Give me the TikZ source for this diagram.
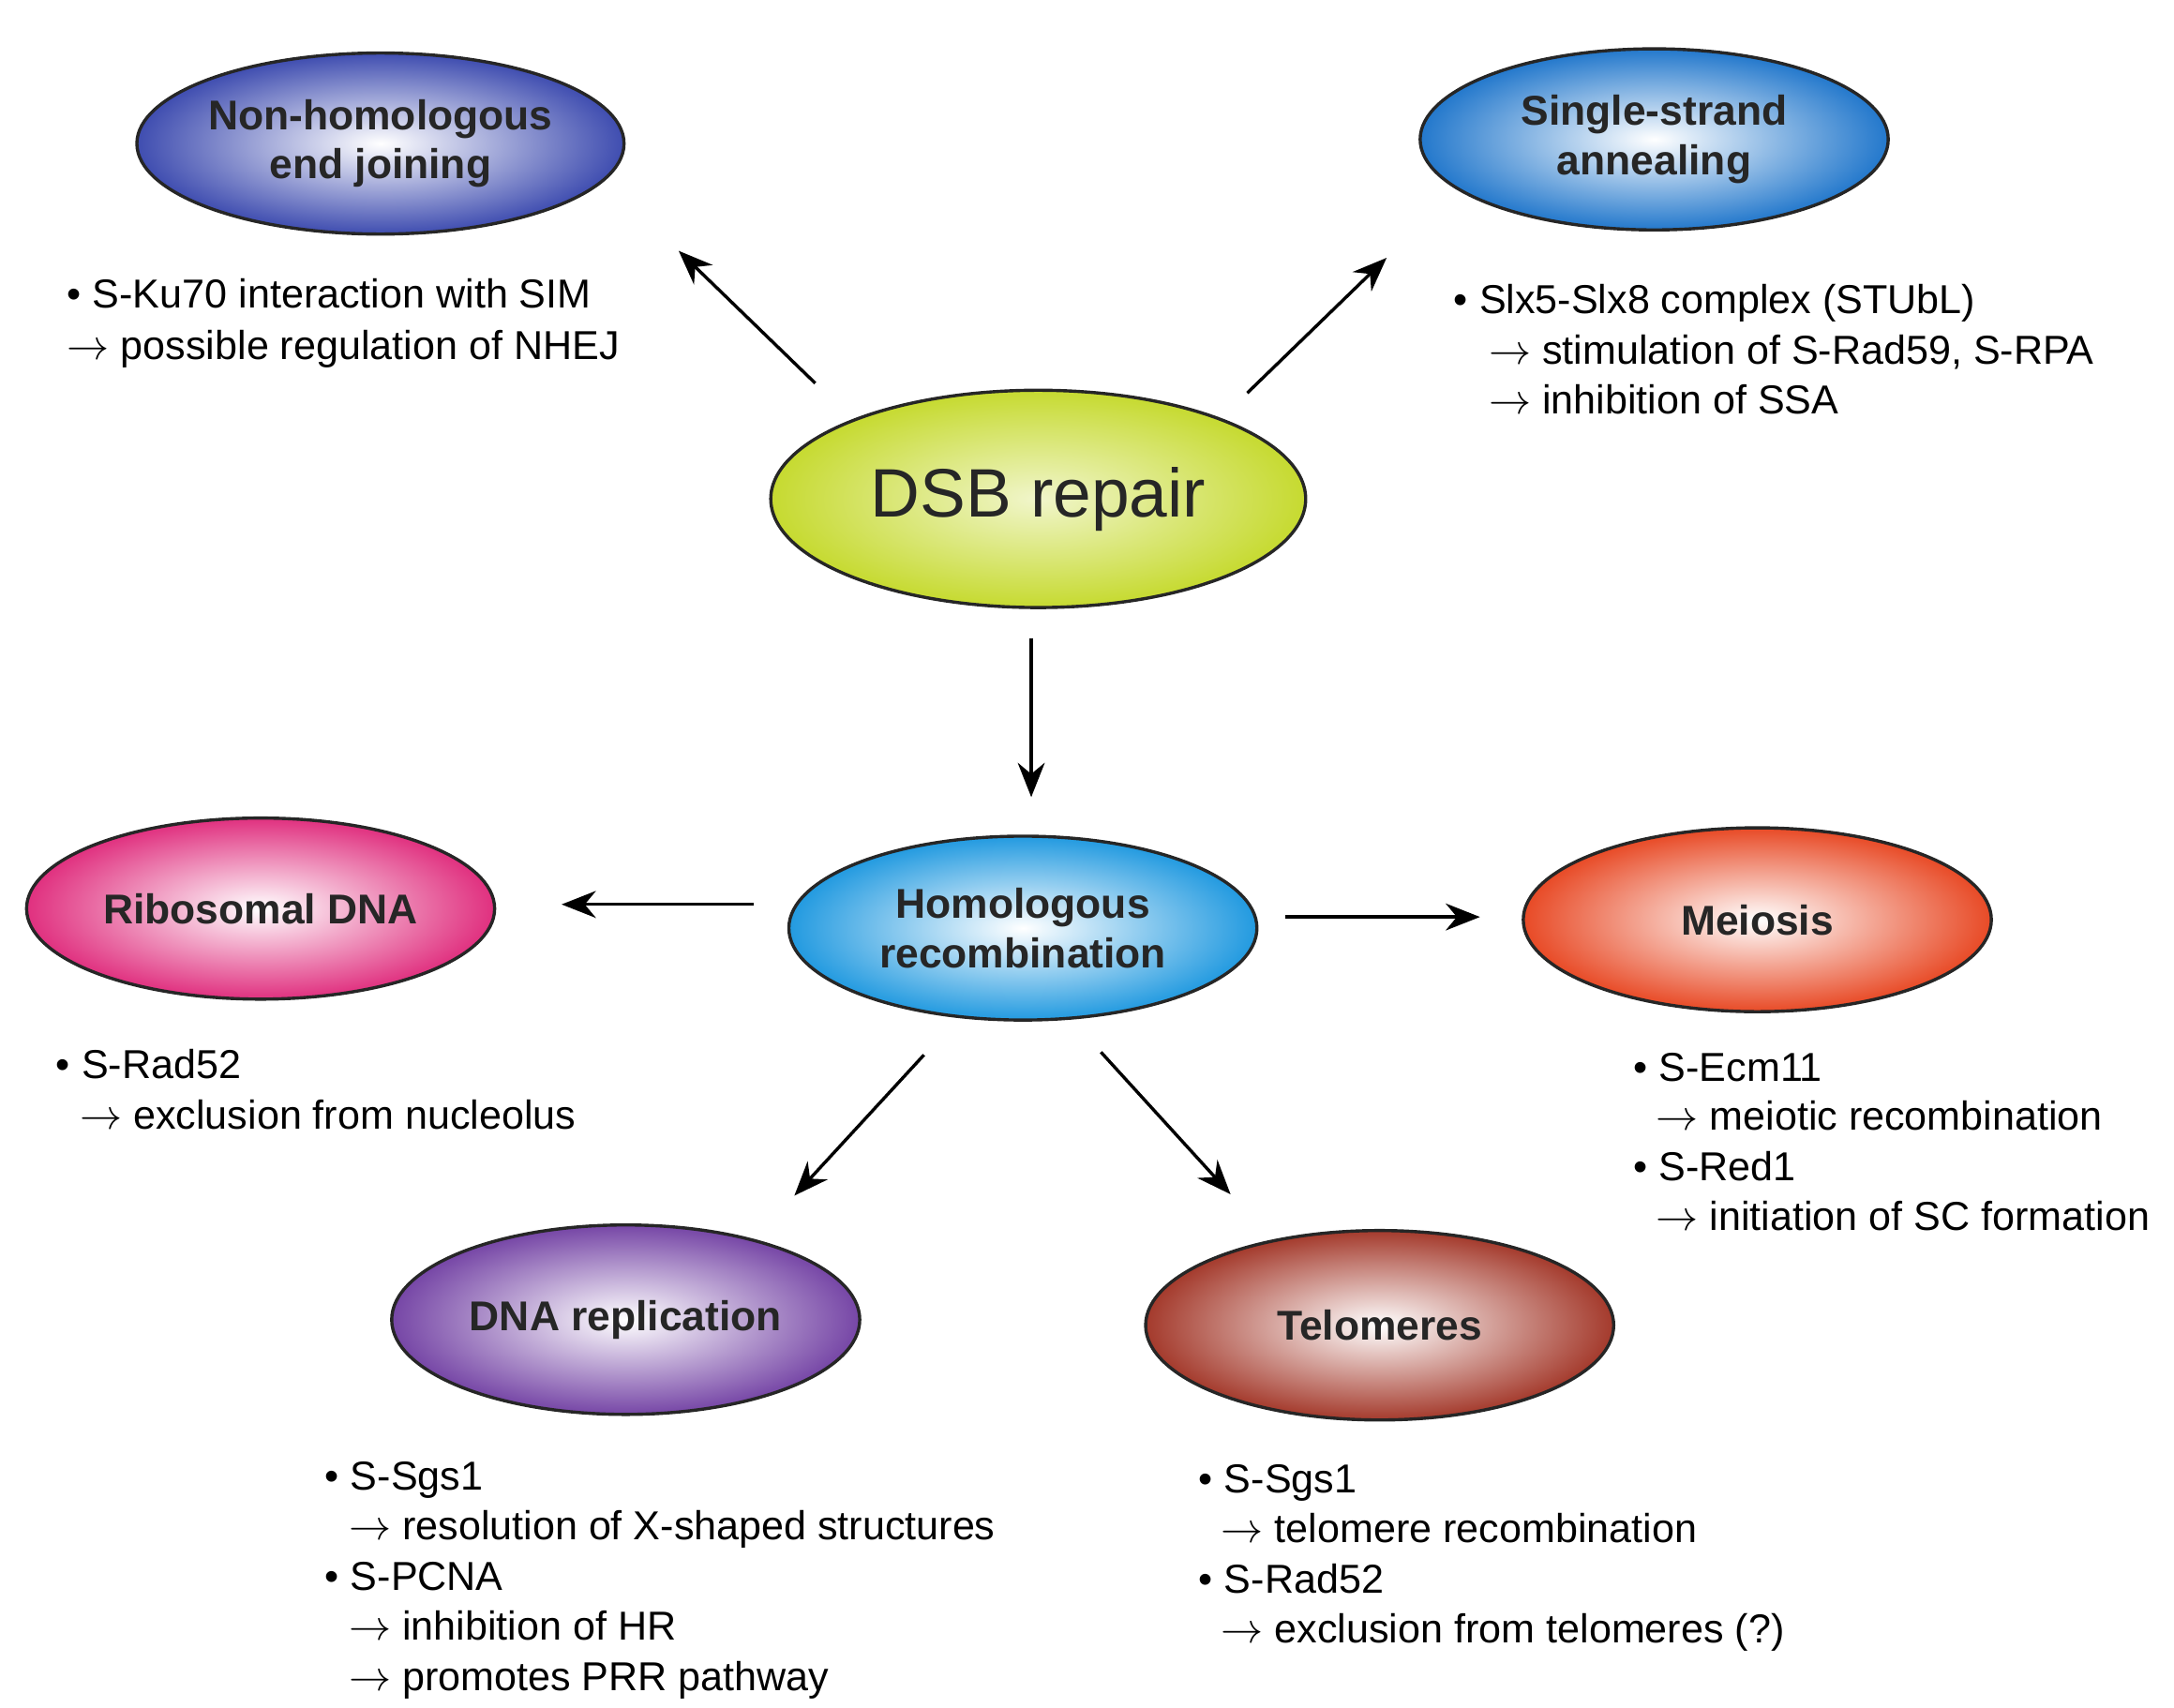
\documentclass[tikz,border=0pt]{standalone}
\usepackage{fontspec}
\setmainfont{Liberation Sans}
\usetikzlibrary{shapes.geometric,arrows.meta}
\definecolor{cnhej}{HTML}{3F4DB0}
\definecolor{cssa}{HTML}{2378CC}
\definecolor{cdsb}{HTML}{C6DA30}
\definecolor{chr}{HTML}{229AE0}
\definecolor{crdna}{HTML}{E0307F}
\definecolor{cmei}{HTML}{E84A26}
\definecolor{crep}{HTML}{7646A6}
\definecolor{ctel}{HTML}{A43A2C}
\begin{document}
\begin{tikzpicture}[x=0.02cm,y=-0.02cm,
  ell/.style={ellipse,draw=black!85,line width=1.3pt,inner sep=0pt,outer sep=0pt,align=center,font=\fontsize{17}{20}\selectfont\bfseries,text=black!85},
  arr/.style={-{Stealth[length=14pt,width=11pt]},line width=1.3pt},
  txt/.style={anchor=base west,font=\fontsize{16.5}{19}\selectfont,inner sep=0pt}]
\useasboundingbox (0,0) rectangle (1560,1225);
\tikzset{mk/.style 2 args={ell,minimum width=#1*0.04cm,minimum height=#2*0.04cm}}
\node[mk={163}{65},shading=radial,inner color=white,outer color=cnhej] (nhej) at (273,103) {Non-homologous\\end joining};
\node[mk={168}{65},shading=radial,inner color=white,outer color=cssa] (ssa) at (1187,100) {Single-strand\\annealing};
\node[mk={192}{78},shading=radial,inner color=cdsb!25,outer color=cdsb,font=\fontsize{28}{32}\selectfont] (dsb) at (745,358) {DSB repair};
\node[mk={168}{66},shading=radial,inner color=white,outer color=chr] (hr) at (734,666) {Homologous\\recombination};
\node[mk={168}{65},shading=radial,inner color=white,outer color=crdna] (rdna) at (187,652) {Ribosomal DNA};
\node[mk={168}{66},shading=radial,inner color=white,outer color=cmei] (mei) at (1261,660) {Meiosis};
\node[mk={168}{68},shading=radial,inner color=white,outer color=crep] (rep) at (449,947) {DNA replication};
\node[mk={168}{68},shading=radial,inner color=white,outer color=ctel] (tel) at (990,951) {Telomeres};
\coordinate (a1s) at (585,275); \coordinate (a1e) at (487,180);
\coordinate (a2s) at (895,282); \coordinate (a2e) at (995,185);
\coordinate (a3s) at (740,458); \coordinate (a3e) at (740,572);
\coordinate (a4s) at (541,649); \coordinate (a4e) at (403,649);
\coordinate (a5s) at (922,658); \coordinate (a5e) at (1062,658);
\coordinate (a6s) at (663,757); \coordinate (a6e) at (570,858);
\coordinate (a7s) at (790,755); \coordinate (a7e) at (883,857);
\foreach \i in {1,...,7} \draw[arr] (a\i s) -- (a\i e);
\node[txt] (t1) at (48,221) {• S-Ku70 interaction with SIM};
\node[txt] (t2) at (48,258) {$\rightarrow$ possible regulation of NHEJ};
\node[txt] (t3) at (1043,225) {• Slx5-Slx8 complex (STUbL)};
\node[txt] (t4) at (1068,261) {$\rightarrow$ stimulation of S-Rad59, S-RPA};
\node[txt] (t5) at (1068,297) {$\rightarrow$ inhibition of SSA};
\node[txt] (t6) at (40,774) {• S-Rad52};
\node[txt] (t7) at (57,810) {$\rightarrow$ exclusion from nucleolus};
\node[txt] (t8) at (1172,776) {• S-Ecm11};
\node[txt] (t9) at (1188,811) {$\rightarrow$ meiotic recombination};
\node[txt] (t10) at (1172,847) {• S-Red1};
\node[txt] (t11) at (1188,883) {$\rightarrow$ initiation of SC formation};
\node[txt] (t12) at (233,1069) {• S-Sgs1};
\node[txt] (t13) at (250,1105) {$\rightarrow$ resolution of X-shaped structures};
\node[txt] (t14) at (233,1141) {• S-PCNA};
\node[txt] (t15) at (250,1177) {$\rightarrow$ inhibition of HR};
\node[txt] (t16) at (250,1213) {$\rightarrow$ promotes PRR pathway};
\node[txt] (t17) at (860,1071) {• S-Sgs1};
\node[txt] (t18) at (876,1107) {$\rightarrow$ telomere recombination};
\node[txt] (t19) at (860,1143) {• S-Rad52};
\node[txt] (t20) at (876,1179) {$\rightarrow$ exclusion from telomeres (?)};
\end{tikzpicture}
\end{document}
